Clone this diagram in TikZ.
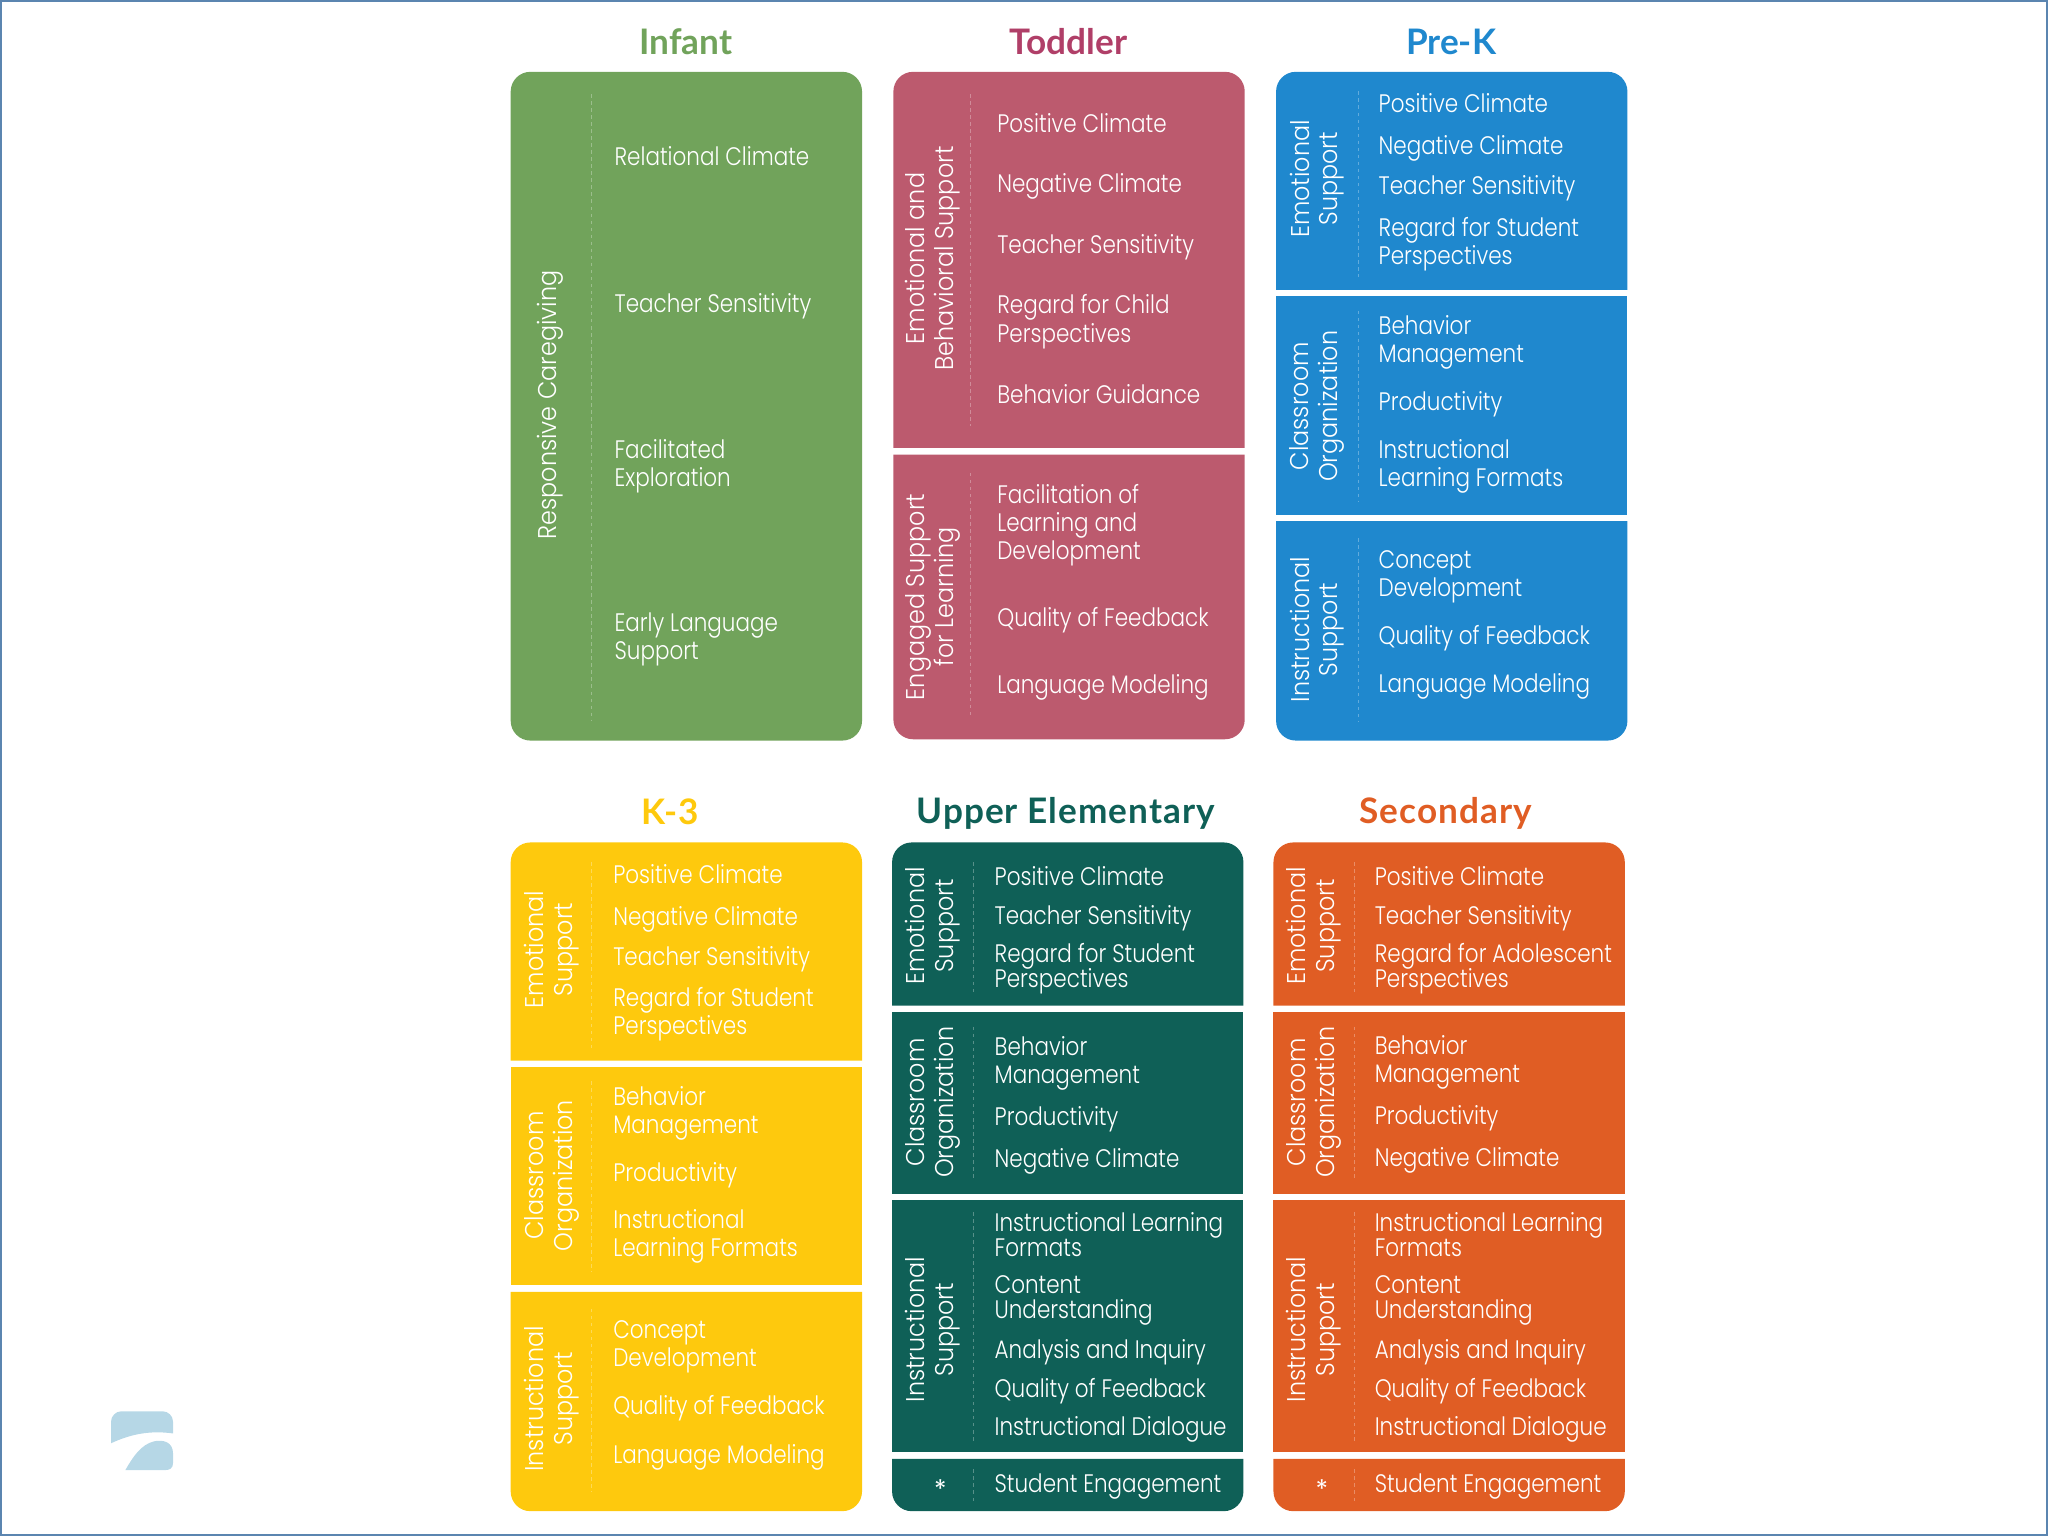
\documentclass[tikz,border=0pt]{standalone}
\usepackage{fontspec}
\setmainfont{Poppins}
\newfontfamily\cellfont[FakeStretch=0.85]{Poppins Light}
\newfontfamily\sidefont[FakeStretch=0.93]{Poppins Light}
\newfontfamily\titlefont{Lato}
\newfontfamily\widetitlefont[LetterSpace=3]{Lato}
\newcommand{\cellstrut}{\rule[-2pt]{0pt}{9pt}}
\newcommand{\tightfont}{\lineskiplimit=-5pt\relax\cellfont\fontsize{7.2}{7.1}\selectfont}
\definecolor{infantgreen}{HTML}{71A35B}
\definecolor{toddlerrose}{HTML}{BC5A6E}
\definecolor{prekblue}{HTML}{1F88CE}
\definecolor{kthreeyellow}{HTML}{FEC90D}
\definecolor{upperteal}{HTML}{0F6057}
\definecolor{secondaryorange}{HTML}{E05D24}
\definecolor{toddlertitle}{HTML}{B03F68}
\definecolor{framecolor}{HTML}{5B85B0}
\definecolor{logoblue}{HTML}{B6D7E6}
\begin{document}
\begin{tikzpicture}[
  x=0.013061cm, y=-0.013061cm,
  cell/.style={text=white, anchor=west, align=left, inner sep=0pt, font=\cellfont\fontsize{7.2}{8}\selectfont, execute at begin node=\cellstrut, execute at end node=\cellstrut},
  tight/.style={cell, font=\tightfont},
  side/.style={text=white, rotate=90, align=center, inner sep=0pt, font=\sidefont\fontsize{7.3}{8.2}\selectfont},
  starmark/.style={text=white, inner sep=0pt, font=\fontsize{7.3}{8}\selectfont},
  heading/.style={inner sep=0pt, text height=9.2pt, text depth=2pt, font=\titlefont\bfseries\fontsize{10}{12}\selectfont},
  wideheading/.style={heading, font=\widetitlefont\bfseries\fontsize{10}{12}\selectfont},
  rule/.style={white, opacity=0.3, line width=0.25pt, dash pattern=on 1pt off 1pt},
  round/.style={rounded corners=5.6pt}
]
\useasboundingbox (0,0) rectangle (1568,1176);
\draw[framecolor, line width=1.4pt] (0,0) rectangle (1568,1176);
% logo
\fill[logoblue] (85,1105) [rounded corners=3pt] -- (85,1080.5) -- (132.5,1080.5) [sharp corners] -- (132.5,1097.5) .. controls (115,1095) and (100,1098) .. (85,1105) -- cycle;
\fill[logoblue] (96,1125.5) .. controls (102,1115) and (108,1106) .. (118,1103.5) .. controls (125,1102) and (132.5,1104) .. (132.5,1113) -- (132.5,1120) .. controls (132.5,1124) and (130,1125.5) .. (127,1125.5) -- cycle;
% titles
\node[heading, text=infantgreen] (infant) at (525,32) {Infant};
\node[heading, text=toddlertitle] (toddler) at (818,32) {Toddler};
\node[heading, text=prekblue] (prek) at (1111,32) {Pre-K};
\node[heading, text=kthreeyellow] (kthree) at (513,621.5) {K-3};
\node[wideheading, text=upperteal] (upper) at (816,621) {Upper Elementary};
\node[wideheading, text=secondaryorange] (secondary) at (1107,621) {Secondary};
% infant
\fill[infantgreen, round] (391,55) rectangle (660,567);
\draw[rule] (453,72) -- (453,552);
\node[side] (inf0) at (421,310) {Responsive Caregiving};
\node[cell] (inf1) at (470,120) {Relational Climate};
\node[cell] (inf2) at (470,232.5) {Teacher Sensitivity};
\node[cell] (inf3) at (470,357) {Facilitated\\Exploration};
\node[cell] (inf4) at (470,489.5) {Early Language\\Support};
% toddler
\fill[toddlerrose] (684,343) [rounded corners=5.6pt] -- (684,55) -- (953,55) [sharp corners] -- (953,343) -- cycle;
\fill[toddlerrose] (684,348) -- (953,348) [rounded corners=5.6pt] -- (953,566) -- (684,566) [sharp corners] -- cycle;
\draw[rule] (743,72) -- (743,326);
\draw[rule] (743,362) -- (743,550);
\node[side] (tod0) at (714,198) {Emotional and\\Behavioral Support};
\node[side] (tod00) at (714,457) {Engaged Support\\for Learning};
\node[cell] (tod1) at (763,94.5) {Positive Climate};
\node[cell] (tod2) at (763,140.5) {Negative Climate};
\node[cell] (tod3) at (763,187) {Teacher Sensitivity};
\node[cell] (tod4) at (763,246.5) {Regard for Child\\Perspectives};
\node[cell] (tod5) at (763,302) {Behavior Guidance};
\node[cell] (tod6) at (763,402.5) {Facilitation of\\Learning and\\Development};
\node[cell] (tod7) at (763,473) {Quality of Feedback};
\node[cell] (tod8) at (763,524.5) {Language Modeling};
% pre-k
\fill[prekblue] (977,222) [rounded corners=5.6pt] -- (977,55) -- (1246,55) [sharp corners] -- (1246,222) -- cycle;
\fill[prekblue] (977,227) rectangle (1246,394);
\fill[prekblue] (977,399) -- (1246,399) [rounded corners=5.6pt] -- (1246,567) -- (977,567) [sharp corners] -- cycle;
\draw[rule] (1040,70) -- (1040,212);
\draw[rule] (1040,238) -- (1040,384);
\draw[rule] (1040,412) -- (1040,552);
\node[side] (pre0) at (1008.5,137) {Emotional\\Support};
\node[side] (pre00) at (1008.5,311) {Classroom\\Organization};
\node[side] (pre000) at (1008.5,482) {Instructional\\Support};
\node[cell] (pre1) at (1055,79.5) {Positive Climate};
\node[cell] (pre2) at (1055,111.5) {Negative Climate};
\node[cell] (pre3) at (1055,142.5) {Teacher Sensitivity};
\node[cell] (pre4) at (1055,187) {Regard for Student\\Perspectives};
\node[cell] (pre5) at (1055,262.5) {Behavior\\Management};
\node[cell] (pre6) at (1055,307.5) {Productivity};
\node[cell] (pre7) at (1055,357.5) {Instructional\\Learning Formats};
\node[cell] (pre8) at (1055,441.5) {Concept\\Development};
\node[cell] (pre9) at (1055,486.5) {Quality of Feedback};
\node[cell] (pre10) at (1055,523.5) {Language Modeling};
% k-3
\fill[kthreeyellow] (391,812) [rounded corners=5.6pt] -- (391,645) -- (660,645) [sharp corners] -- (660,812) -- cycle;
\fill[kthreeyellow] (391,817) rectangle (660,984);
\fill[kthreeyellow] (391,989) -- (660,989) [rounded corners=5.6pt] -- (660,1157) -- (391,1157) [sharp corners] -- cycle;
\draw[rule] (453,660) -- (453,802);
\draw[rule] (453,828) -- (453,974);
\draw[rule] (453,1002) -- (453,1142);
\node[side] (kth0) at (422.5,727) {Emotional\\Support};
\node[side] (kth00) at (422.5,900) {Classroom\\Organization};
\node[side] (kth000) at (422.5,1071) {Instructional\\Support};
\node[cell] (kth1) at (469,669.5) {Positive Climate};
\node[cell] (kth2) at (469,701.5) {Negative Climate};
\node[cell] (kth3) at (469,732.5) {Teacher Sensitivity};
\node[cell] (kth4) at (469,776.5) {Regard for Student\\Perspectives};
\node[cell] (kth5) at (469,852.5) {Behavior\\Management};
\node[cell] (kth6) at (469,897.5) {Productivity};
\node[cell] (kth7) at (469,947) {Instructional\\Learning Formats};
\node[cell] (kth8) at (469,1031.5) {Concept\\Development};
\node[cell] (kth9) at (469,1076.5) {Quality of Feedback};
\node[cell] (kth10) at (469,1113.5) {Language Modeling};
% upper elementary
\fill[upperteal] (683,770) [rounded corners=5.6pt] -- (683,645) -- (952,645) [sharp corners] -- (952,770) -- cycle;
\fill[upperteal] (683,775) rectangle (952,914);
\fill[upperteal] (683,919) rectangle (952,1112);
\fill[upperteal] (683,1117) -- (952,1117) [rounded corners=5.6pt] -- (952,1157) -- (683,1157) [sharp corners] -- cycle;
\draw[rule] (745,660) -- (745,760);
\draw[rule] (745,786) -- (745,904);
\draw[rule] (745,928) -- (745,1104);
\draw[rule] (745,1125) -- (745,1149);
\node[side] (upp0) at (714,709) {Emotional\\Support};
\node[side] (upp00) at (714,844) {Classroom\\Organization};
\node[side] (upp000) at (714,1018) {Instructional\\Support};
\node[starmark] (upp0000) at (720,1140) {*};
\node[cell] (upp1) at (761,671) {Positive Climate};
\node[cell] (upp2) at (761,701) {Teacher Sensitivity};
\node[tight] (upp3) at (761,742) {Regard for Student\\Perspectives};
\node[cell] (upp4) at (761,814.5) {Behavior\\Management};
\node[cell] (upp5) at (761,855) {Productivity};
\node[cell] (upp6) at (761,887) {Negative Climate};
\node[tight] (upp7) at (761,948) {Instructional Learning\\Formats};
\node[tight] (upp8) at (761,995.5) {Content\\Understanding};
\node[cell] (upp9) at (761,1033) {Analysis and Inquiry};
\node[cell] (upp10) at (761,1063) {Quality of Feedback};
\node[cell] (upp11) at (761,1092) {Instructional Dialogue};
\node[cell] (upp12) at (761,1136) {Student Engagement};
% secondary
\fill[secondaryorange] (975,770) [rounded corners=5.6pt] -- (975,645) -- (1244,645) [sharp corners] -- (1244,770) -- cycle;
\fill[secondaryorange] (975,775) rectangle (1244,914);
\fill[secondaryorange] (975,919) rectangle (1244,1112);
\fill[secondaryorange] (975,1117) -- (1244,1117) [rounded corners=5.6pt] -- (1244,1157) -- (975,1157) [sharp corners] -- cycle;
\draw[rule] (1037,660) -- (1037,760);
\draw[rule] (1037,786) -- (1037,904);
\draw[rule] (1037,928) -- (1037,1104);
\draw[rule] (1037,1125) -- (1037,1149);
\node[side] (sec0) at (1006,709) {Emotional\\Support};
\node[side] (sec00) at (1006,844) {Classroom\\Organization};
\node[side] (sec000) at (1006,1018) {Instructional\\Support};
\node[starmark] (sec0000) at (1012,1140) {*};
\node[cell] (sec1) at (1052,671) {Positive Climate};
\node[cell] (sec2) at (1052,701) {Teacher Sensitivity};
\node[tight] (sec3) at (1052,742) {Regard for Adolescent\\Perspectives};
\node[cell] (sec4) at (1052,813.5) {Behavior\\Management};
\node[cell] (sec5) at (1052,854) {Productivity};
\node[cell] (sec6) at (1052,886) {Negative Climate};
\node[tight] (sec7) at (1052,948) {Instructional Learning\\Formats};
\node[tight] (sec8) at (1052,995.5) {Content\\Understanding};
\node[cell] (sec9) at (1052,1033) {Analysis and Inquiry};
\node[cell] (sec10) at (1052,1063) {Quality of Feedback};
\node[cell] (sec11) at (1052,1092) {Instructional Dialogue};
\node[cell] (sec12) at (1052,1136) {Student Engagement};
\end{tikzpicture}
\end{document}
